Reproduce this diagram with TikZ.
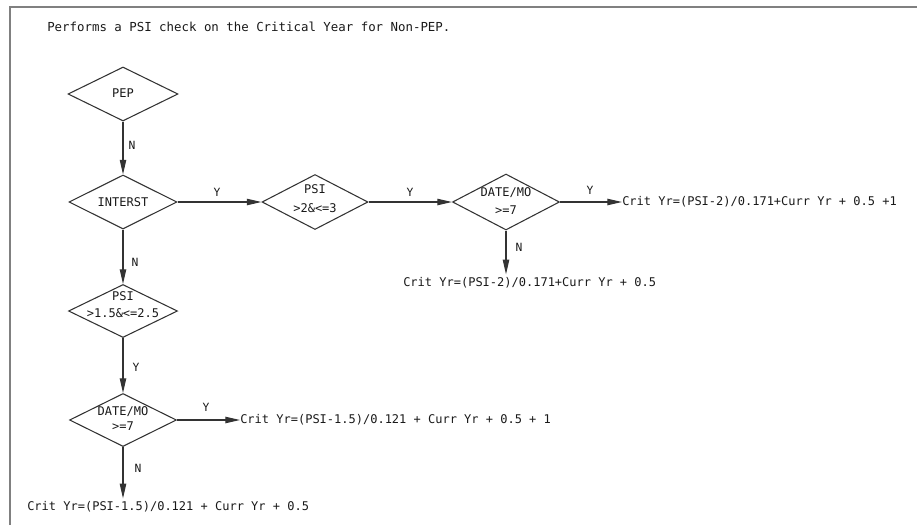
\documentclass[tikz,border=0pt]{standalone}
\usepackage{fontspec}
\newfontfamily\cadfont{DejaVu Sans Mono}
\usetikzlibrary{shapes.geometric,arrows.meta,calc}
\tikzset{
  dia/.style={draw=black!80, line width=0.8pt, shape=diamond, inner sep=0pt,
    minimum width=108*0.75pt, minimum height=54*0.75pt},
  txt/.style={inner sep=0pt, font=\cadfont\fontsize{9}{11}\selectfont, text=black!90},
  lbl/.style={inner sep=0pt, font=\cadfont\fontsize{8.5}{10}\selectfont, text=black!90},
  conn/.style={draw=black!80, line width=0.8pt, -{Triangle[length=11pt,width=4.8pt]}},
  framel/.style={draw=black!50, line width=1.5pt}
}
\begin{document}
\begin{tikzpicture}[x=0.75pt,y=-0.75pt]
\useasboundingbox (0,0) rectangle (917,525);
\draw[framel] (10,525) -- (10,7) -- (917,7);

\node[txt, anchor=west, font=\cadfont\fontsize{9.3}{11}\selectfont] (title) at (47,27) {Performs a PSI check on the Critical Year for Non-PEP.};

% diamonds
\node[dia, minimum width=110*0.75pt] (pep) at (123,94) {};
\node[dia] (interst) at (123,202) {};
\node[dia, minimum width=106*0.75pt, minimum height=55*0.75pt] (psi1) at (315,202) {};
\node[dia, minimum width=107*0.75pt, minimum height=56*0.75pt] (date1) at (506,202) {};
\node[dia, minimum width=109*0.75pt, minimum height=53*0.75pt] (psi2) at (123,311) {};
\node[dia, minimum width=107*0.75pt, minimum height=53*0.75pt] (date2) at (123,420) {};

% diamond texts
\node[txt] (pept) at (123,93) {PEP};
\node[txt] (interstt) at (123,202) {INTERST};
\node[txt] (psi1a) at (315,189) {PSI};
\node[txt] (psi1b) at (315,208) {>2\&<=3};
\node[txt] (date1a) at (506,193) {DATE/MO};
\node[txt] (date1b) at (506,210) {>=7};
\node[txt] (psi2a) at (123,296) {PSI};
\node[txt] (psi2b) at (123,313) {>1.5\&<=2.5};
\node[txt] (date2a) at (123,412) {DATE/MO};
\node[txt] (date2b) at (123,426) {>=7};

% results
\node[txt, anchor=west] (res1) at (622,202) {Crit Yr=(PSI-2)/0.171+Curr Yr + 0.5 +1};
\node[txt, anchor=west] (res2) at (403,283) {Crit Yr=(PSI-2)/0.171+Curr Yr + 0.5};
\node[txt, anchor=west] (res3) at (240,420) {Crit Yr=(PSI-1.5)/0.121 + Curr Yr + 0.5 + 1};
\node[txt, anchor=west] (res4) at (27,507) {Crit Yr=(PSI-1.5)/0.121 + Curr Yr + 0.5};

% connectors
\draw[conn] (pep.south) -- (interst.north);
\draw[conn] (interst.east) -- (psi1.west);
\draw[conn] (psi1.east) -- (date1.west);
\draw[conn] (date1.east) -- (date1.east -| res1.west);
\coordinate (d1n) at ($(date1.south |- res2.north)+(0,-3)$);
\draw[conn] (date1.south) -- (d1n);
\draw[conn] (interst.south) -- (psi2.north);
\draw[conn] (psi2.south) -- (date2.north);
\draw[conn] (date2.east) -- (date2.east -| res3.west);
\coordinate (d2n) at ($(date2.south |- res4.north)+(0,-3)$);
\draw[conn] (date2.south) -- (d2n);

% branch labels
\node[lbl] (l1) at (132,145) {N};
\node[lbl] (l2) at (217,192) {Y};
\node[lbl] (l3) at (410,192) {Y};
\node[lbl] (l4) at (590,190) {Y};
\node[lbl] (l5) at (519,247) {N};
\node[lbl] (l6) at (135,262) {N};
\node[lbl] (l7) at (136,367) {Y};
\node[lbl] (l8) at (206,407) {Y};
\node[lbl] (l9) at (138,468) {N};
\end{tikzpicture}
\end{document}
